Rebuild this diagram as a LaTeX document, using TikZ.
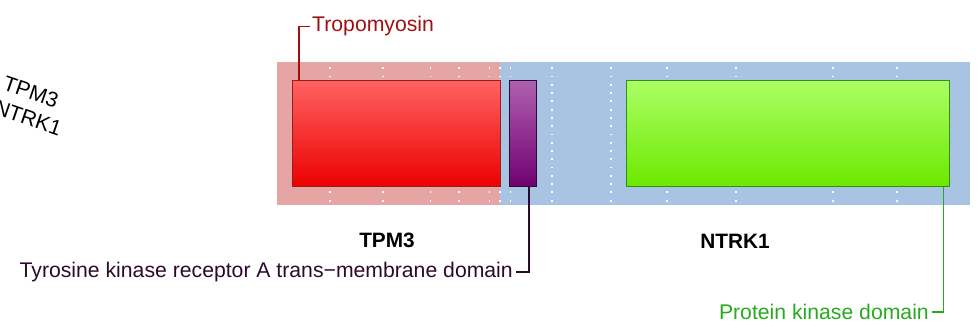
\documentclass[tikz,border=0pt]{standalone}
\usepackage{fontspec}
\setmainfont{Liberation Sans}
\begin{document}
\begin{tikzpicture}[x=1pt,y=-1pt,
  lbl/.style={font=\fontsize{21.2}{24}\selectfont, inner sep=0pt},
  gname/.style={font=\bfseries\fontsize{20.8}{24}\selectfont, inner sep=0pt},
  dom/.style={draw, line width=1.4pt, inner sep=0pt, anchor=north west},
  conn/.style={line width=1.8pt}]
\definecolor{pinkbg}{RGB}{229,165,165}
\definecolor{bluebg}{RGB}{168,196,226}
\definecolor{tropo}{RGB}{160,16,16}
\definecolor{tmcol}{RGB}{45,10,45}
\definecolor{pkcol}{RGB}{40,170,30}
\definecolor{redtop}{RGB}{255,98,98}
\definecolor{redbot}{RGB}{236,0,0}
\definecolor{redbd}{RGB}{150,30,30}
\definecolor{purtop}{RGB}{176,96,176}
\definecolor{purbot}{RGB}{112,0,112}
\definecolor{grntop}{RGB}{172,255,100}
\definecolor{grnbot}{RGB}{108,232,0}
\definecolor{grnbd}{RGB}{40,150,20}
\useasboundingbox (0,0) rectangle (978,327);
\clip (0,0) rectangle (978,327);
% backgrounds
\fill[pinkbg] (277,62) rectangle (500,204.5);
\fill[bluebg] (500,62) rectangle (970,204.5);
% dotted grid lines
\foreach \gx in {330,383,430.5,459,489.5,500,510.5,552,611,667,736,833,897}{
  \foreach \k in {0,...,16}{
    \fill[white] (\gx-0.9,68.3+8.27*\k-0.9) rectangle (\gx+0.9,68.3+8.27*\k+0.9);
  }
}
% domains
\node[dom, draw=redbd, top color=redtop, bottom color=redbot,
  minimum width=208pt, minimum height=106pt] (tpm) at (292,80) {};
\node[dom, draw=tmcol, top color=purtop, bottom color=purbot,
  minimum width=26.5pt, minimum height=106pt] (tm) at (509,80) {};
\node[dom, draw=grnbd, top color=grntop, bottom color=grnbot,
  minimum width=323pt, minimum height=106pt] (pk) at (626,80) {};
% gene labels
\node[gname] (g1) at (387,240) {TPM3};
\node[gname] (g2) at (735,241) {NTRK1};
% rotated labels
\node[lbl, rotate=-19] (r1) at (31,92) {TPM3};
\node[lbl, rotate=-19] (r2) at (28,118) {NTRK1};
% domain labels
\node[lbl, text=tropo, anchor=west] (tl) at (312,26.5) {Tropomyosin};
\node[lbl, text=tmcol, anchor=east] (ml) at (513,272) {Tyrosine kinase receptor A trans\textminus membrane domain};
\node[lbl, text=pkcol, anchor=east] (pl) at (929,312) {Protein kinase domain};
% connectors
\coordinate (tc) at ([xshift=7pt]tpm.north west);
\coordinate (mc) at ([xshift=-8pt]tm.south east);
\coordinate (pc) at ([xshift=-7pt]pk.south east);
\draw[conn, tropo] (tc) |- ([xshift=-2.5pt]tl.west);
\draw[conn, tmcol] (mc) |- ([xshift=3pt]ml.east);
\draw[conn, pkcol] (pc) |- ([xshift=3pt]pl.east);
\end{tikzpicture}
\end{document}
